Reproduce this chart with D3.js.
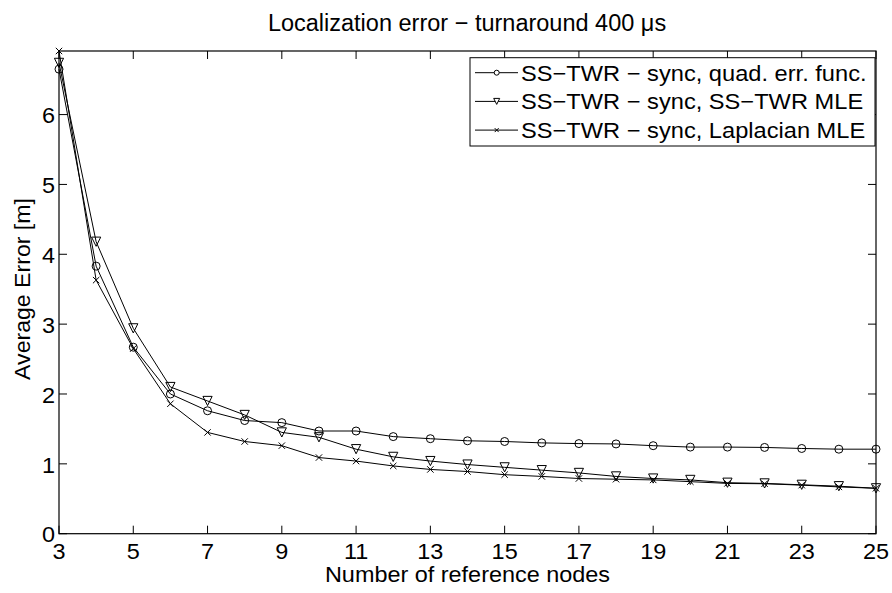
<!DOCTYPE html>
<html><head><meta charset="utf-8">
<script src="https://cdn.jsdelivr.net/npm/d3@7"></script>
<style>body{margin:0;background:#fff}svg{display:block}text{font-family:"Liberation Sans",Arial,sans-serif;fill:#000}</style>
</head><body><svg id="c" width="892" height="593"></svg>
<script>
const nodes = [3,4,5,6,7,8,9,10,11,12,13,14,15,16,17,18,19,20,21,22,23,24,25];
const quadErr = [6.65,3.83,2.67,2.00,1.76,1.62,1.59,1.47,1.47,1.39,1.36,1.33,1.32,1.30,1.29,1.285,1.26,1.24,1.24,1.235,1.22,1.21,1.21];
const sstwrMle = [6.74,4.18,2.94,2.10,1.90,1.70,1.45,1.38,1.21,1.10,1.04,0.99,0.95,0.91,0.87,0.82,0.79,0.77,0.73,0.72,0.70,0.68,0.65];
const laplaceMle = [6.91,3.63,2.65,1.86,1.45,1.32,1.26,1.09,1.04,0.97,0.92,0.89,0.845,0.82,0.79,0.78,0.77,0.745,0.72,0.715,0.695,0.67,0.65];
const seriesNames = ["SS\u2212TWR \u2212 sync, quad. err. func.","SS\u2212TWR \u2212 sync, SS\u2212TWR MLE","SS\u2212TWR \u2212 sync, Laplacian MLE"];
const xTicks = [3,5,7,9,11,13,15,17,19,21,23,25];
const yTicks = [0,1,2,3,4,5,6];
const titleText = "Localization error \u2212 turnaround 400 \u03bcs";
const xLabel = "Number of reference nodes";
const yLabel = "Average Error [m]";

const L=59,R=876,T=51,B=533.7;
const SX=1.065, FS=22;
const svg=d3.select("#c");
const x=d3.scaleLinear().domain([3,25]).range([L,R]);
const y=d3.scaleLinear().domain([0,6.91]).range([B,T]);

function txt(g,s,px,py,anchor,opts={}){
  return g.append("text").attr("transform",`translate(${px},${py})${opts.rot?` rotate(${opts.rot})`:""} scale(${opts.sx||SX},1)`)
    .attr("text-anchor",anchor).attr("font-size",opts.fs||FS).text(s);
}
// box
svg.append("rect").attr("x",L).attr("y",T).attr("width",R-L).attr("height",B-T).attr("fill","none").attr("stroke","#000").attr("stroke-width",1.2);
// ticks
const tk=8;
const tg=svg.append("g").attr("stroke","#000").attr("stroke-width",1);
xTicks.forEach(v=>{const px=x(v);
  tg.append("line").attr("x1",px).attr("x2",px).attr("y1",B).attr("y2",B-tk);
  tg.append("line").attr("x1",px).attr("x2",px).attr("y1",T).attr("y2",T+tk);});
yTicks.forEach(v=>{const py=y(v);
  tg.append("line").attr("x1",L).attr("x2",L+tk).attr("y1",py).attr("y2",py);
  tg.append("line").attr("x1",R).attr("x2",R-tk).attr("y1",py).attr("y2",py);});
const lg=svg.append("g");
xTicks.forEach(v=>txt(lg,v,x(v),559.3,"middle"));
yTicks.forEach(v=>txt(lg,v,55,y(v)+8.7,"end"));
txt(lg,xLabel,(L+R)/2,582.3,"middle");
txt(lg,yLabel,30,289,"middle",{rot:-90,sx:1.05});
txt(lg,titleText,467,31,"middle",{sx:1,fs:23.5});

// series
const all=[quadErr,sstwrMle,laplaceMle];
const line=d3.line().x((d,i)=>x(nodes[i])).y(d=>y(d));
const pg=svg.append("g");
function marker(g,k,px,py){
  if(k===0) g.append("circle").attr("cx",px).attr("cy",py).attr("r",4).attr("fill","none").attr("stroke","#000").attr("stroke-width",1);
  else if(k===1){const s=4.6;g.append("path").attr("d",`M${px-s},${py-s}L${px+s},${py-s}L${px},${py+s}Z`).attr("fill","none").attr("stroke","#000").attr("stroke-width",1);}
  else {const s=3.2;g.append("path").attr("d",`M${px-s},${py-s}L${px+s},${py+s}M${px-s},${py+s}L${px+s},${py-s}`).attr("stroke","#000").attr("stroke-width",1);}
}
all.forEach((arr,k)=>{
  pg.append("path").attr("d",line(arr)).attr("fill","none").attr("stroke","#000").attr("stroke-width",1);
  arr.forEach((v,i)=>marker(pg,k,x(nodes[i]),y(v)));
});
// legend
const leg=svg.append("g");
leg.append("rect").attr("x",470).attr("y",57.7).attr("width",405).attr("height",88.3).attr("fill","#fff").attr("stroke","#000").attr("stroke-width",1);
seriesNames.forEach((s,k)=>{const py=72.7+k*28.7;
  leg.append("line").attr("x1",475).attr("x2",518).attr("y1",py).attr("y2",py).attr("stroke","#000").attr("stroke-width",1);
  const g=leg.append("g");
  if(k===0) g.append("circle").attr("cx",496.7).attr("cy",py).attr("r",2.5).attr("fill","#fff").attr("stroke","#000");
  else if(k===1){const sz=3;g.append("path").attr("d",`M${496.7-sz},${py-sz}L${496.7+sz},${py-sz}L${496.7},${py+sz}Z`).attr("fill","#fff").attr("stroke","#000");}
  else {const sz=2;g.append("path").attr("d",`M${496.7-sz},${py-sz}L${496.7+sz},${py+sz}M${496.7-sz},${py+sz}L${496.7+sz},${py-sz}`).attr("stroke","#000");}
  txt(leg,s,521,py+7.9,"start",{sx:1.075});
});
</script></body></html>
